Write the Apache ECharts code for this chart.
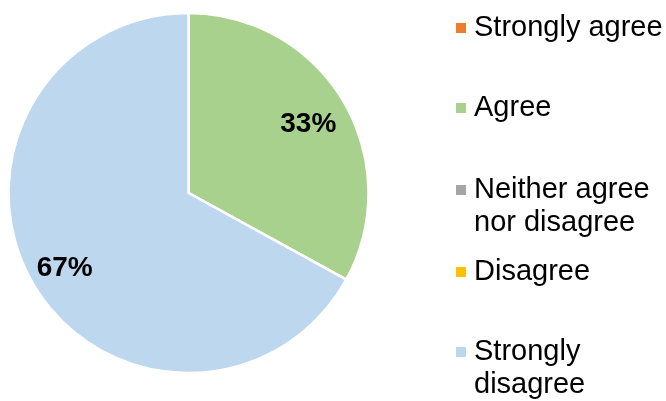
<!DOCTYPE html>
<html>
<head>
<meta charset="utf-8">
<script src="https://cdn.jsdelivr.net/npm/echarts@6/dist/echarts.min.js"></script>
<style>
  html, body { margin: 0; padding: 0; background: #fff; }
  #chart { width: 666px; height: 401px; }
</style>
</head>
<body>
<div id="chart"></div>
<script>
const categories = ['Strongly agree', 'Agree', 'Neither agree\nnor disagree', 'Disagree', 'Strongly\ndisagree'];
const values = [0, 33, 0, 0, 67];
const colors = ['#ED7D31', '#A9D18E', '#A5A5A5', '#FFC000', '#BDD7EE'];

// icon centre y for each legend entry
const legendCentres = [28, 108, 190, 272, 352];

const chart = echarts.init(document.getElementById('chart'));

const pieData = categories.map((name, i) => ({
    name: name,
    value: values[i],
    itemStyle: { color: colors[i] }
}));

const LINE_H = 33;
const legends = categories.map((name, i) => {
    const twoLine = name.indexOf('\n') >= 0;
    return {
        orient: 'vertical',
        left: 456,
        top: legendCentres[i] - (twoLine ? LINE_H * 1.5 : LINE_H / 2),
        padding: 0,
        itemWidth: 10,
        itemHeight: 10,
        icon: 'rect',
        itemStyle: { borderWidth: 0 },
        selectedMode: false,
        data: [{ name: name }],
        // empty first line keeps the icon level with the first text line
        formatter: n => (twoLine ? '\n' + n : n),
        textStyle: {
            fontFamily: 'Liberation Sans, Arial, sans-serif',
            fontSize: 29,
            color: '#000',
            lineHeight: LINE_H,
            padding: [0, 0, 0, 3]
        }
    };
});

const option = {
    backgroundColor: '#fff',
    animation: false,
    legend: legends,
    series: [
        {
            type: 'pie',
            center: [188.5, 193],
            radius: [0, 180],
            startAngle: 90,
            clockwise: true,
            label: { show: false },
            labelLine: { show: false },
            itemStyle: { borderColor: '#fff', borderWidth: 2.5 },
            data: pieData
        },
        {
            // label-only ring so the percentages sit near 0.77 of the radius
            type: 'pie',
            center: [188.5, 193],
            radius: [97, 180],
            startAngle: 90,
            clockwise: true,
            silent: true,
            itemStyle: { color: 'rgba(0,0,0,0)' },
            labelLine: { show: false },
            label: {
                show: true,
                position: 'inside',
                offset: [-2, 3],
                fontFamily: 'Liberation Sans, Arial, sans-serif',
                fontSize: 28,
                fontWeight: 'bold',
                color: '#000',
                formatter: function (p) {
                    return p.value ? Math.round(p.percent) + '%' : '';
                }
            },
            data: categories.map((name, i) => ({ name: name, value: values[i] }))
        }
    ]
};

chart.setOption(option);
</script>
</body>
</html>
